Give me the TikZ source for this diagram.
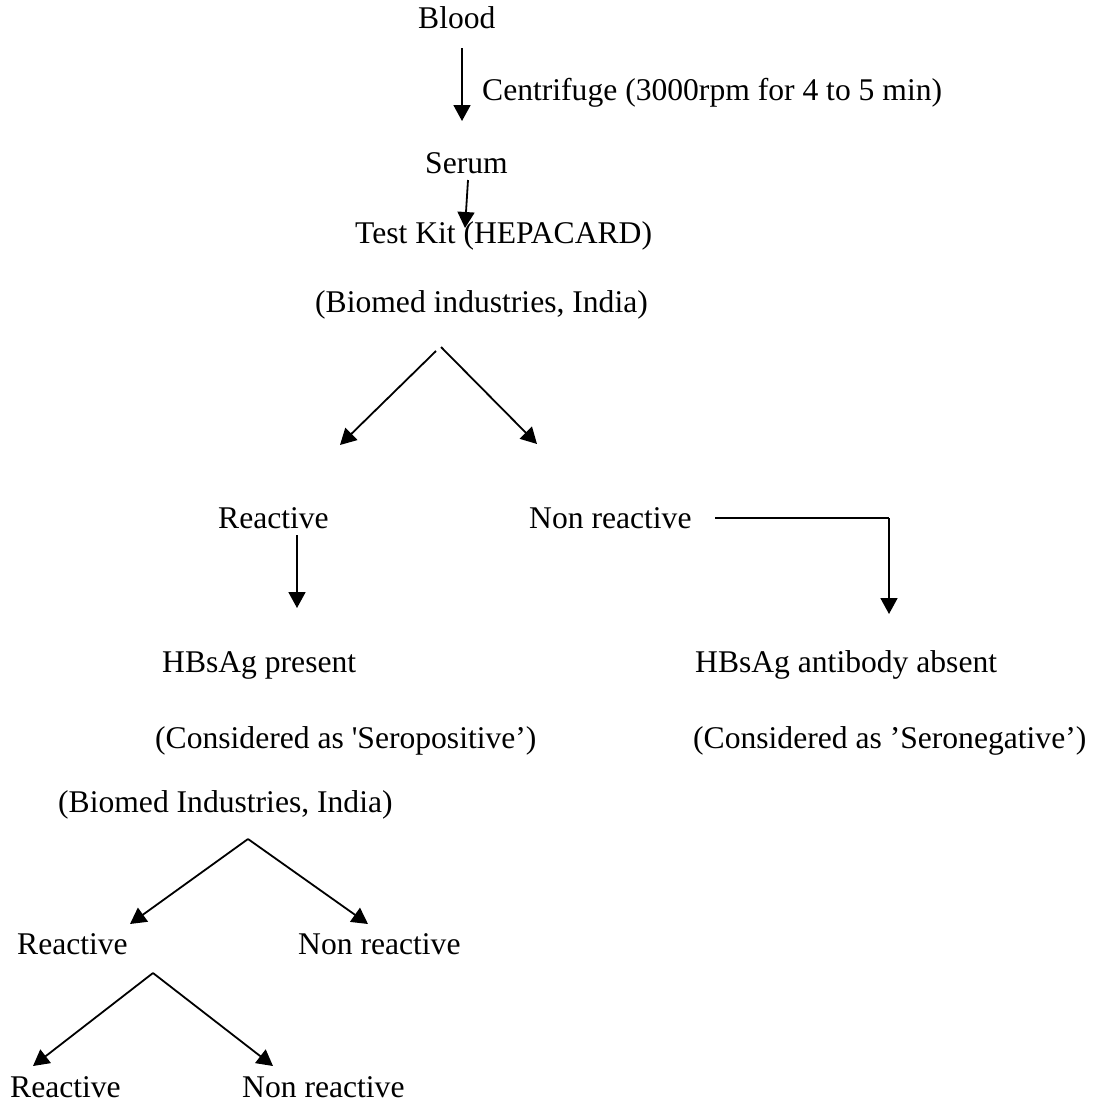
\documentclass[tikz,border=0pt]{standalone}
\usepackage{fontspec}
\setmainfont{Liberation Serif}[Ligatures=TeXOff]
\usetikzlibrary{arrows.meta}
\begin{document}
\begin{tikzpicture}[x=1pt,y=-1pt,
  lbl/.style={anchor=base west,inner sep=0pt,font=\fontsize{31.6}{36}\selectfont},
  arr/.style={line width=1.8pt,-{Triangle[width=17pt,length=16pt]}},
  ln/.style={line width=1.8pt}]
\useasboundingbox[fill=white] (0,0) rectangle (1093,1103);
% texts
\node[lbl] (blood) at (418,28) {Blood};
\node[lbl] (cent) at (482,100) {Centrifuge (3000rpm for 4 to 5 min)};
\node[lbl] (serum) at (425,173) {Serum};
\node[lbl] (kit) at (355,243) {Test Kit (HEPACARD)};
\node[lbl] (bio) at (315,312) {(Biomed industries, India)};
\node[lbl] (r1) at (218,528) {Reactive};
\node[lbl] (n1) at (529,528) {Non reactive};
\node[lbl] (hp) at (162,672) {HBsAg present};
\node[lbl] (ha) at (695,672) {HBsAg antibody absent};
\node[lbl] (cp) at (155,748) {(Considered as 'Seropositive’)};
\node[lbl] (cn) at (693,748) {(Considered as ’Seronegative’)};
\node[lbl] (bio2) at (58,812) {(Biomed Industries, India)};
\node[lbl] (r2) at (17,954) {Reactive};
\node[lbl] (n2) at (298,954) {Non reactive};
\node[lbl] (r3) at (10,1097) {Reactive};
\node[lbl] (n3) at (242,1097) {Non reactive};
% connector points
\coordinate (a1s) at (462,48);
\coordinate (a1e) at (462,121);
\coordinate (a2s) at (468,180);
\coordinate (a2e) at (465,228);
\coordinate (s1l) at (436,351);
\coordinate (s1r) at (441,347);
\coordinate (t1l) at (340,445);
\coordinate (t1r) at (537,444);
\coordinate (r1s) at (297,535);
\coordinate (r1e) at (297,608);
\coordinate (n1s) at (715,518);
\coordinate (n1c) at (889,518);
\coordinate (n1e) at (889,614);
\coordinate (s2) at (248,839);
\coordinate (t2l) at (130,924);
\coordinate (t2r) at (368,924);
\coordinate (s3) at (153,973);
\coordinate (t3l) at (33,1066);
\coordinate (t3r) at (273,1066);
% connectors
\draw[arr] (a1s) -- (a1e);
\draw[arr] (a2s) -- (a2e);
\draw[arr] (s1l) -- (t1l);
\draw[arr] (s1r) -- (t1r);
\draw[arr] (r1s) -- (r1e);
\draw[ln] (n1s) -- (n1c);
\draw[arr] (n1c) -- (n1e);
\draw[arr] (s2) -- (t2l);
\draw[arr] (s2) -- (t2r);
\draw[arr] (s3) -- (t3l);
\draw[arr] (s3) -- (t3r);
\end{tikzpicture}
\end{document}
